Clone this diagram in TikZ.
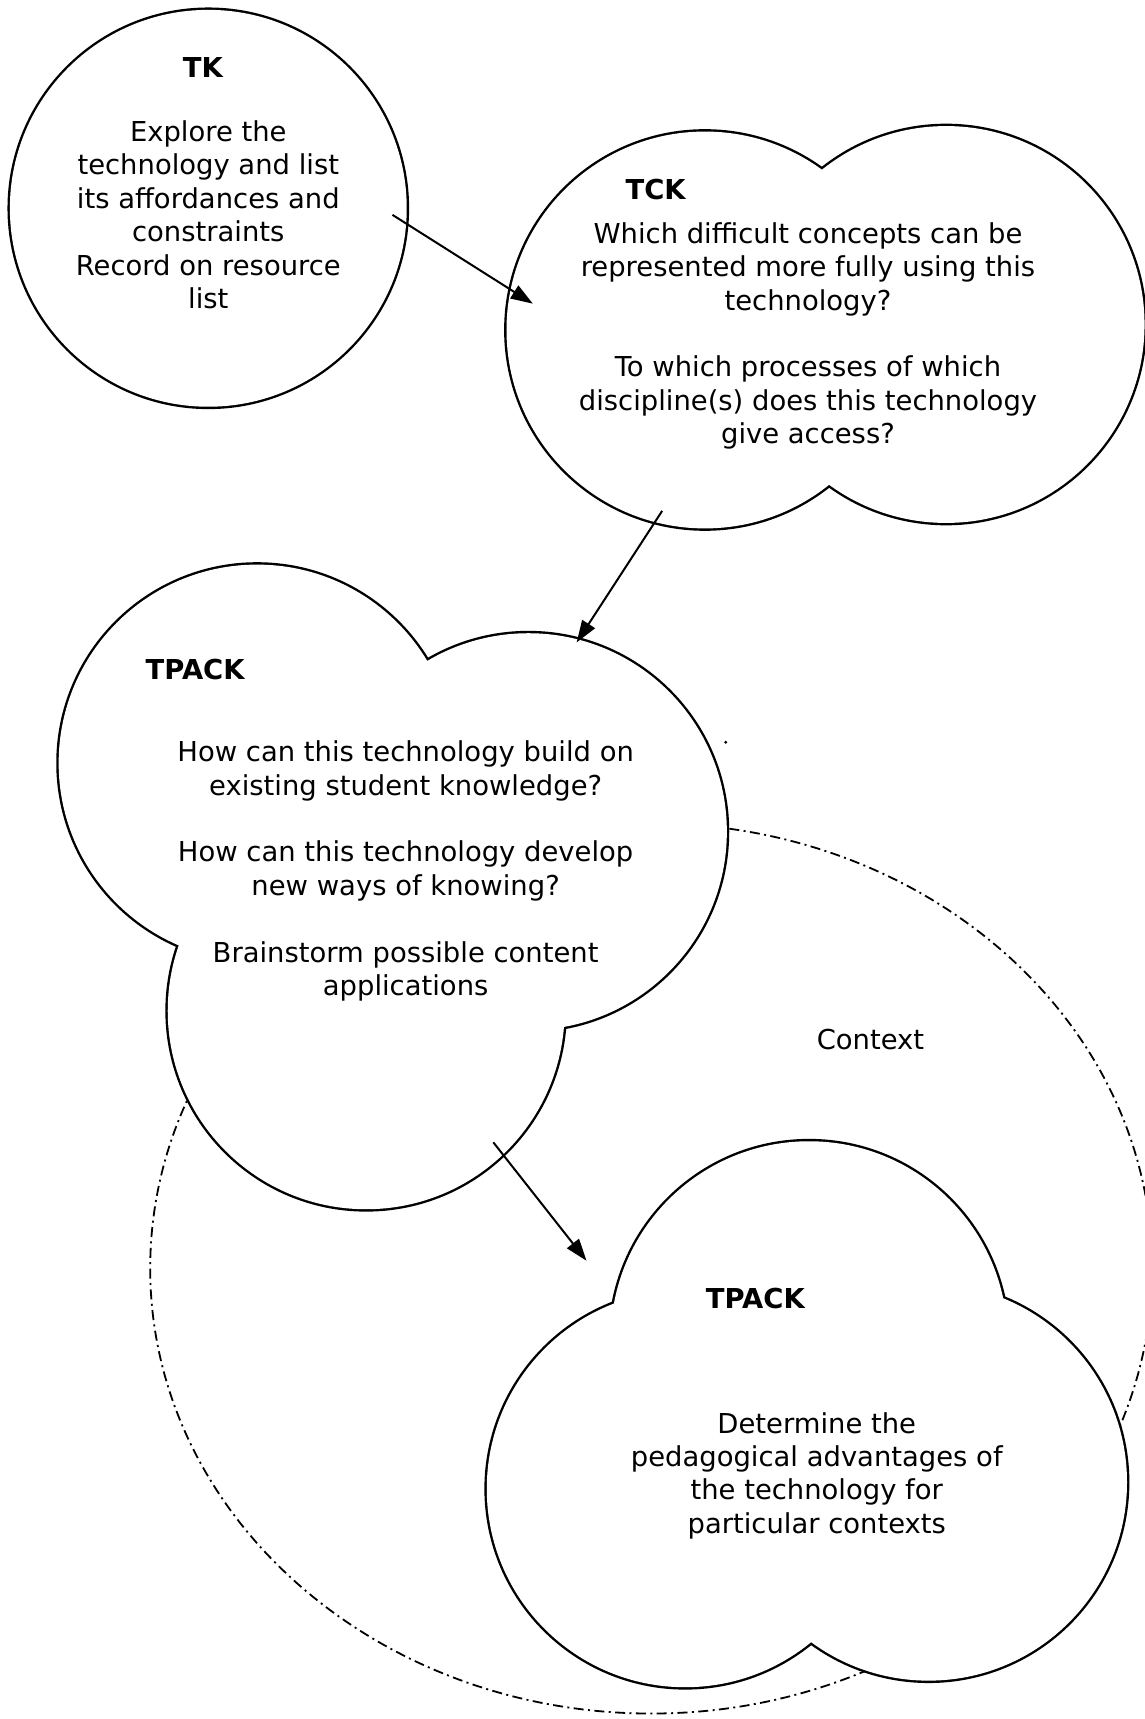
\documentclass[tikz,border=0pt]{standalone}
\usepackage{fontspec}
\setmainfont{DejaVu Sans}
\usetikzlibrary{arrows.meta}
\begin{document}
\begin{tikzpicture}[x=0.5479pt,y=-0.5479pt,
  lobeline/.style={line width=2.4pt},
  lobefill/.style={fill=white},
  context/.style={line width=0.9pt, dash pattern=on 5pt off 2.2pt on 1pt off 2.2pt},
  heading/.style={font=\fontsize{13.7pt}{16.7pt}\selectfont\bfseries, inner sep=0pt},
  body/.style={font=\fontsize{13.7pt}{16.7pt}\selectfont, align=center, inner sep=0pt},
  flow/.style={line width=1pt, -{Triangle[length=11pt,width=7.5pt]}}
]
\useasboundingbox (0,0) rectangle (1044,1568);

% dash-dot context boundary, drawn first so the bubbles cover it
\draw[context] (594,1157) ellipse[x radius=457, y radius=406];
\fill (662,677) circle[radius=1.5];

% bubbles: every lobe is a circle of the same radius; the thick stroke
% is half covered by the white fill, leaving only the outer outline
\foreach \c in {(190,190)} {\draw[lobeline] \c circle[radius=181];}
\foreach \c in {(190,190)} {\fill[lobefill] \c circle[radius=181];}

\foreach \c in {(643,301),(863,296)} {\draw[lobeline] \c circle[radius=181];}
\foreach \c in {(643,301),(863,296)} {\fill[lobefill] \c circle[radius=181];}

\foreach \c in {(234.5,696),(482,758.6),(334,922)} {\draw[lobeline] \c circle[radius=181];}
\foreach \c in {(234.5,696),(482,758.6),(334,922)} {\fill[lobefill] \c circle[radius=181];}

\foreach \c in {(738,1222),(625,1358),(847,1352)} {\draw[lobeline] \c circle[radius=181];}
\foreach \c in {(738,1222),(625,1358),(847,1352)} {\fill[lobefill] \c circle[radius=181];}

% texts
\node[heading] (tk-title) at (185,62) {TK};
\node[body] (tk-text) at (190,196) {Explore the\\technology and list\\its affordances and\\constraints\\Record on resource\\list};

\node[heading] (tck-title) at (598,173) {TCK};
\node[body] (tck-text) at (737,306.5) {Which difficult concepts can be\\represented more fully using this\\technology?\\[16.7pt]To which processes of which\\discipline(s) does this technology\\give access?};

\node[heading] (tp1-title) at (178,611) {TPACK};
\node[body] (tp1-text) at (370,794.5) {How can this technology build on\\existing student knowledge?\\[16.7pt]How can this technology develop\\new ways of knowing?\\[16.7pt]Brainstorm possible content\\applications};

\node[body] (context) at (794,948) {Context};

\node[heading] (tp2-title) at (689,1184) {TPACK};
\node[body] (tp2-text) at (745,1346) {Determine the\\pedagogical advantages of\\the technology for\\particular contexts};

% connectors between the bubbles
\coordinate (tk-out) at (358,196);
\coordinate (tck-in) at (486,277);
\coordinate (tck-out) at (604,466);
\coordinate (tp1-in) at (526,586);
\coordinate (tp1-out) at (450,1042);
\coordinate (tp2-in) at (535,1150);

\draw[flow] (tk-out) -- (tck-in);
\draw[flow] (tck-out) -- (tp1-in);
\draw[flow] (tp1-out) -- (tp2-in);
\end{tikzpicture}
\end{document}
